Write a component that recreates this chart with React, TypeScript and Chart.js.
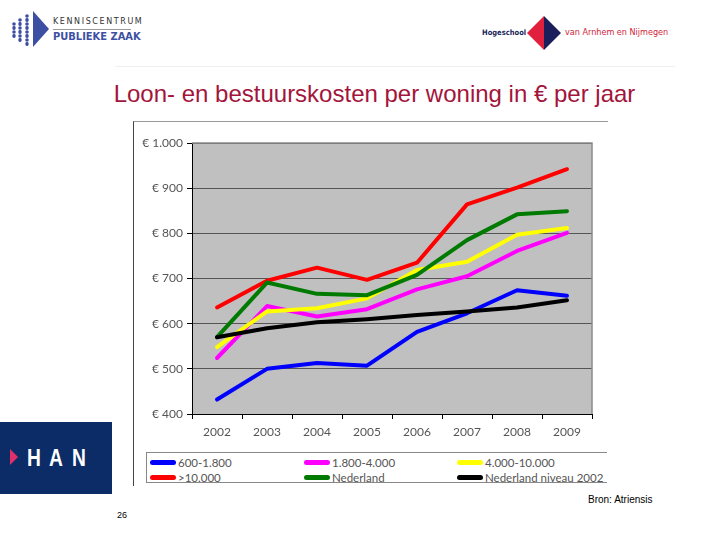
import React, { useEffect, useRef } from "react";
import { Chart, registerables } from "chart.js";

Chart.register(...registerables);

const years = ["2002", "2003", "2004", "2005", "2006", "2007", "2008", "2009"];
const s600_1800 = [432, 500, 513, 507, 582, 623, 674, 662];
const s1800_4000 = [524, 639, 616, 632, 676, 705, 761, 801];
const s4000_10000 = [548, 627, 634, 656, 719, 737, 797, 812];
const s10000 = [636, 695, 724, 697, 735, 864, 901, 942];
const nederland = [570, 691, 666, 663, 708, 785, 842, 849];
const nederland2002 = [570, 590, 603, 610, 619, 627, 636, 652];

const seriesLabels = ["600-1.800", "1.800-4.000", "4.000-10.000", ">10.000", "Nederland", "Nederland niveau 2002"];
const seriesColors = ["#0000ff", "#ff00ff", "#ffff00", "#ff0000", "#007a00", "#000000"];
const seriesData = [s600_1800, s1800_4000, s4000_10000, s10000, nederland, nederland2002];

const yMin = 400;
const yMax = 1000;
const yStep = 100;

const title = "Loon- en bestuurskosten per woning in € per jaar";
const source = "Bron: Atriensis";
const pageNo = "26";

const chartFont = "Lato, 'Open Sans', sans-serif";

function fmt(v: number) {
  return "€ " + String(v).replace(/\B(?=(\d{3})+(?!\d))/g, ".");
}

const plotBg = {
  id: "plotBg",
  beforeDraw(chart: any) {
    const { ctx, chartArea } = chart;
    ctx.save();
    ctx.fillStyle = "#c0c0c0";
    ctx.fillRect(chartArea.left, chartArea.top, chartArea.right - chartArea.left, chartArea.bottom - chartArea.top);
    ctx.restore();
  },
  beforeDatasetsDraw(chart: any) {
    const { ctx, chartArea } = chart;
    ctx.save();
    ctx.strokeStyle = "#8a8a8a";
    ctx.lineWidth = 1.5;
    ctx.beginPath();
    ctx.moveTo(chartArea.left, chartArea.top);
    ctx.lineTo(chartArea.right, chartArea.top);
    ctx.lineTo(chartArea.right, chartArea.bottom);
    ctx.stroke();
    ctx.restore();
  },
};

function LineChart() {
  const ref = useRef<HTMLCanvasElement | null>(null);
  useEffect(() => {
    if (!ref.current) return;
    const chart = new Chart(ref.current, {
      type: "line",
      data: {
        labels: years,
        datasets: seriesData.map((d, i) => ({
          label: seriesLabels[i],
          data: d,
          borderColor: seriesColors[i],
          backgroundColor: seriesColors[i],
          borderWidth: 4,
          pointRadius: 0,
          tension: 0,
          borderCapStyle: "round",
          borderJoinStyle: "round",
          order: seriesData.length - i,
        })),
      },
      options: {
        animation: false,
        responsive: false,
        maintainAspectRatio: false,
        layout: { padding: { top: 22, right: 16, left: 0, bottom: 0 } },
        plugins: {
          legend: { display: false },
          tooltip: { enabled: false },
          title: { display: false },
        },
        scales: {
          x: {
            offset: true,
            grid: {
              offset: true,
              drawOnChartArea: false,
              drawTicks: true,
              tickLength: 5,
              tickColor: "#000",
            },
            border: { color: "#000", width: 1 },
            ticks: { color: "#555", font: { family: chartFont, size: 12 }, padding: 6 },
            afterFit: (s: any) => { s.height = 32; },
          },
          y: {
            min: yMin,
            max: yMax,
            ticks: {
              stepSize: yStep,
              color: "#555",
              font: { family: chartFont, size: 12 },
              padding: 4,
              callback: (v: any) => fmt(Number(v)),
            },
            grid: { color: "#555", lineWidth: 1, tickLength: 5, tickColor: "#000" },
            border: { color: "#000", width: 1 },
            afterFit: (s: any) => { s.width = 59; },
          },
        },
      },
      plugins: [plotBg],
    } as any);
    return () => chart.destroy();
  }, []);
  return <canvas ref={ref} width={475} height={325} style={{ display: "block", width: 475, height: 325 }} />;
}

function Legend() {
  const cols = [13, 167, 320];
  const rows = [4, 19];
  return (
    <div style={{ position: "absolute", left: 146, top: 452, width: 461, height: 31, border: "1px solid #888", borderRight: "none", boxSizing: "border-box", fontFamily: chartFont, fontSize: 11.5, color: "#555" }}>
      {seriesLabels.map((l, i) => (
        <div key={l} style={{ position: "absolute", left: cols[i % 3] - 10, top: rows[Math.floor(i / 3)] - 2, display: "flex", alignItems: "center", height: 14, whiteSpace: "nowrap" }}>
          <div style={{ width: 26, height: 5, borderRadius: 3, background: seriesColors[i], marginRight: 2 }} />
          <span>{l}</span>
        </div>
      ))}
    </div>
  );
}

function KennisLogo() {
  return (
    <div style={{ position: "absolute", left: 10, top: 8, width: 140, height: 42 }}>
      <svg width={42} height={42} style={{ position: "absolute", left: 0, top: 0 }}>
        <polygon points="23,3 39,21 23,39" fill="#3d4fa3" />
        {[[4, 16], [4, 24], [10, 12], [10, 20], [10, 28], [17, 8], [17, 16], [17, 24], [17, 32]].map((p, i) => (
          <g key={i}>
            <circle cx={p[0]} cy={p[1]} r={1.8} fill="#3d4fa3" />
            <rect x={p[0] - 1.6} y={p[1] + 2} width={3.2} height={4} rx={1.4} fill="#3d4fa3" />
          </g>
        ))}
      </svg>
      <div style={{ position: "absolute", left: 43, top: 9, fontFamily: "'DejaVu Sans', sans-serif", fontSize: 8, letterSpacing: 1.6, color: "#333" }}>KENNISCENTRUM</div>
      <div style={{ position: "absolute", left: 43, top: 21, width: 78, height: 1, background: "#999" }} />
      <div style={{ position: "absolute", left: 43, top: 22, fontFamily: "'DejaVu Sans Condensed', 'DejaVu Sans', sans-serif", fontWeight: "bold", fontSize: 11, color: "#3d4fa3" }}>PUBLIEKE ZAAK</div>
    </div>
  );
}

function HanHeaderLogo() {
  return (
    <div style={{ position: "absolute", left: 480, top: 14, width: 200, height: 40 }}>
      <div style={{ position: "absolute", left: 2, top: 14, fontFamily: "'DejaVu Sans Condensed', 'DejaVu Sans', sans-serif", fontWeight: "bold", fontSize: 7.5, color: "#1a1f5c" }}>Hogeschool</div>
      <svg width={40} height={36} style={{ position: "absolute", left: 46, top: 2 }}>
        <polygon points="1,17 18,0 18,34" fill="#e0203c" />
        <polygon points="18,0 35,17 18,34" fill="#1a1f5c" />
      </svg>
      <div style={{ position: "absolute", left: 85, top: 13, fontFamily: "'DejaVu Sans Condensed', 'DejaVu Sans', sans-serif", fontSize: 9, color: "#d01c3a" }}>van Arnhem en Nijmegen</div>
    </div>
  );
}

function HanLogo() {
  const letters = [["H", 27], ["A", 49], ["N", 72]];
  return (
    <div style={{ position: "absolute", left: 0, top: 422, width: 112, height: 72, background: "#0b2c66" }}>
      <svg width={12} height={20} style={{ position: "absolute", left: 10, top: 27 }}>
        <polygon points="0,0 8,8 0,16" fill="#e0306a" />
      </svg>
      {letters.map(([ch, x]) => (
        <div key={ch as string} style={{ position: "absolute", left: x as number, top: 22, fontFamily: "'Liberation Sans', Arial, sans-serif", fontWeight: "bold", fontSize: 24, color: "#fff", transform: "scaleX(0.8)", transformOrigin: "left top" }}>{ch}</div>
      ))}
    </div>
  );
}

export default function App() {
  return (
    <div style={{ position: "fixed", left: 0, top: 0, width: 720, height: 540, background: "#fff", overflow: "hidden" }}>
      <KennisLogo />
      <HanHeaderLogo />
      <div style={{ position: "absolute", left: 115, top: 66, width: 560, height: 1, background: "#f0f0f0" }} />
      <div style={{ position: "absolute", left: 0, top: 80, width: 749, textAlign: "center", fontFamily: "'Liberation Sans', Arial, sans-serif", fontSize: 24, color: "#a3143c", whiteSpace: "nowrap" }}>{title}</div>
      <div style={{ position: "absolute", left: 133, top: 121, width: 474, height: 364, borderLeft: "1px solid #444", borderTop: "1px solid #999" }} />
      <div style={{ position: "absolute", left: 133, top: 121, width: 475, height: 325 }}>
        <LineChart />
      </div>
      <Legend />
      <HanLogo />
      <div style={{ position: "absolute", left: 588, top: 494, fontFamily: "'Liberation Sans', Arial, sans-serif", fontSize: 10, color: "#000" }}>{source}</div>
      <div style={{ position: "absolute", left: 117, top: 510, fontFamily: "'Liberation Sans', Arial, sans-serif", fontSize: 9, color: "#000" }}>{pageNo}</div>
    </div>
  );
}
